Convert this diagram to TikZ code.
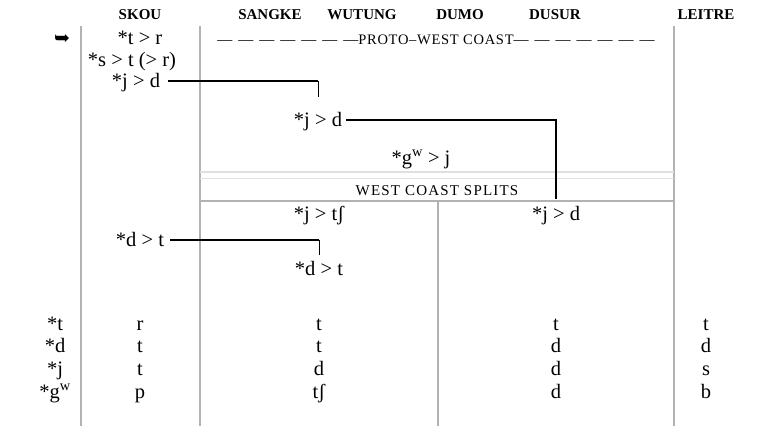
\documentclass[tikz,border=0pt]{standalone}
\usepackage{fontspec}
\setmainfont{Liberation Serif}
\newfontfamily\symfont{DejaVu Sans}
\newfontfamily\trackfont[LetterSpace=5]{Liberation Serif}
\newfontfamily\widefont[LetterSpace=8]{Liberation Serif}
\newcommand\dashrun{—\hspace{6pt}—\hspace{6pt}—\hspace{6pt}—\hspace{6pt}—\hspace{6pt}—\hspace{6pt}—}
\begin{document}
\begin{tikzpicture}[x=1pt,y=-1pt,
  every node/.style={inner sep=0pt},
  body/.style={font=\fontsize{20.5}{20.5}\selectfont, anchor=base},
  head/.style={font=\bfseries\fontsize{15}{15}\selectfont, anchor=base},
  caps/.style={font=\widefont\fontsize{15}{15}\selectfont, anchor=base},
  rule/.style={draw=black!30, line width=1.3pt},
  faint/.style={draw=black!12, line width=1.6pt},
  conn/.style={line width=1.7pt},
  drop/.style={line width=0.7pt}]
\useasboundingbox (0,0) rectangle (766,426);

% column rules
\draw[rule] (81,26) -- (81,426);
\draw[rule] (200,26) -- (200,426);
\draw[rule] (674,26) -- (674,426);
\draw[rule] (438,201) -- (438,426);
\draw[faint] (200,172) -- (674,172);
\draw[faint] (200,178.5) -- (674,178.5);
\draw[rule] (200,201) -- (674,201);

% language headings
\node[head] (hskou) at (140,19) {SKOU};
\node[head] (hsang) at (270,19) {SANGKE};
\node[head] (hwut)  at (362,19) {WUTUNG};
\node[head] (hdumo) at (460,19) {DUMO};
\node[head] (hdus)  at (555,19) {DUSUR};
\node[head] (hleit) at (706,19) {LEITRE};

% sound changes
\node[font=\symfont\fontsize{19}{19}\selectfont, anchor=base] (mark) at (62,44) {➥};
\node[body] (sk1) at (140,44) {*t > r};
\node[body] (sk2) at (132,66) {*s > t (> r)};
\node[body] (sk3) at (136,87) {*j > d};
\node[anchor=base] (pwc) at (436,44) {\fontsize{15}{15}\selectfont\dashrun{\trackfont\fontsize{14.5}{14.5}\selectfont PROTO–WEST COAST}\dashrun};
\node[body] (sw1) at (318,126) {*j > d};
\node[body] (sw2) at (421,164) {*g\textsuperscript{w} > j};
\node[caps] (wcs) at (437,195) {WEST COAST SPLITS};
\node[body] (sw4) at (319,220) {*j > tʃ};
\node[body] (du1) at (556,220) {*j > d};
\node[body] (sk4) at (140,246) {*d > t};
\node[body] (sw3) at (319,275) {*d > t};

% spreading of changes across languages
\path ([yshift=6pt]sk3.base east) coordinate (a1);
\draw[conn] ([xshift=8pt]a1) -- (a1 -| sw1) coordinate (b1);
\draw[drop] (b1) -- ++(0,16);
\path ([yshift=6pt]sw1.base east) coordinate (a2);
\draw[conn] ([xshift=4pt]a2) -| ([yshift=7pt]du1.north);
\path ([yshift=6pt]sk4.base east) coordinate (a4);
\draw[conn] ([xshift=6pt]a4) -- (a4 -| sw3) coordinate (b4);
\draw[drop] (b4) -- ++(0,15);

% correspondence table
\node[body] (pt) at (55,330) {*t};
\node[body] (pd) at (55,352) {*d};
\node[body] (pj) at (55,375) {*j};
\node[body] (pg) at (55,398) {*g\textsuperscript{w}};
\node[body] (t11) at (140,330) {r};
\node[body] (t12) at (140,352) {t};
\node[body] (t13) at (140,375) {t};
\node[body] (t14) at (140,398) {p};
\node[body] (t21) at (319,330) {t};
\node[body] (t22) at (319,352) {t};
\node[body] (t23) at (319,375) {d};
\node[body] (t24) at (319,398) {tʃ};
\node[body] (t31) at (556,330) {t};
\node[body] (t32) at (556,352) {d};
\node[body] (t33) at (556,375) {d};
\node[body] (t34) at (556,398) {d};
\node[body] (t41) at (706,330) {t};
\node[body] (t42) at (706,352) {d};
\node[body] (t43) at (706,375) {s};
\node[body] (t44) at (706,398) {b};
\end{tikzpicture}
\end{document}
